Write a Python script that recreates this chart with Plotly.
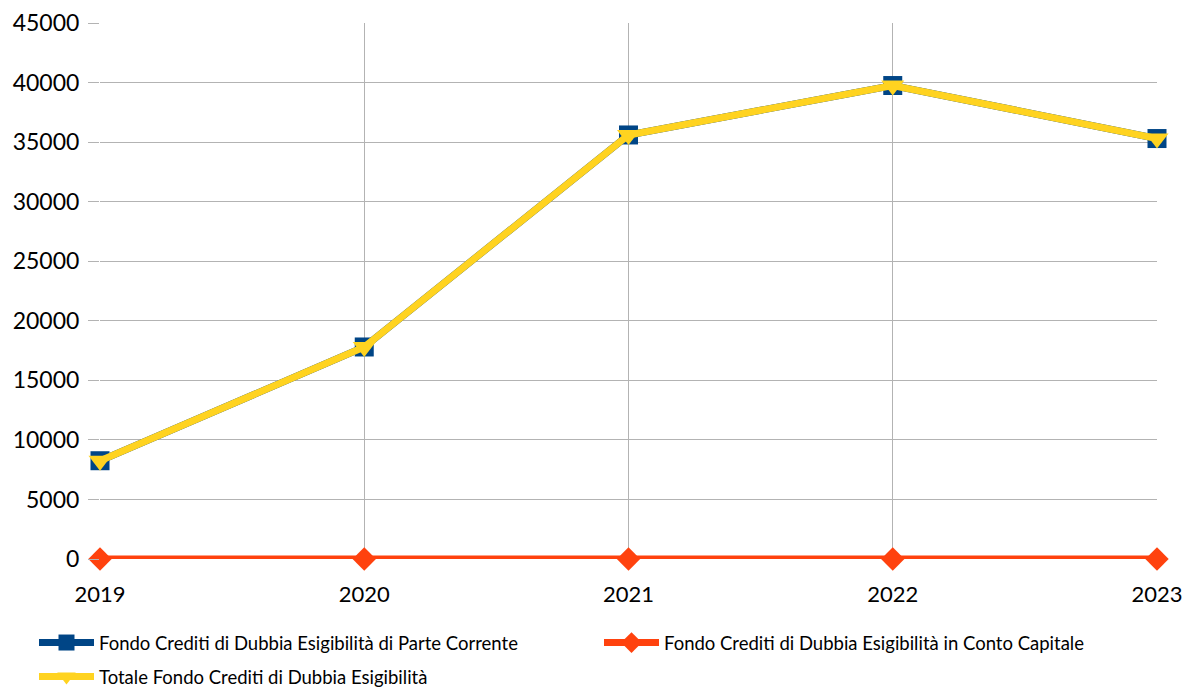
import plotly.graph_objects as go

years = [2019, 2020, 2021, 2022, 2023]
parte_corrente = [8250, 17800, 35600, 39750, 35300]
conto_capitale = [0, 0, 0, 0, 0]
totale = [a + b for a, b in zip(parte_corrente, conto_capitale)]

names = [
    "Fondo Crediti di Dubbia Esigibilità di Parte Corrente",
    "Fondo Crediti di Dubbia Esigibilità in Conto Capitale",
    "Totale Fondo Crediti di Dubbia Esigibilità",
]
y_ticks = [0, 5000, 10000, 15000, 20000, 25000, 30000, 35000, 40000, 45000]

FONT = "Lato, Carlito, 'Open Sans', sans-serif"
W, H = 1185, 689

fig = go.Figure()
fig.add_trace(go.Scatter(
    x=years, y=parte_corrente, name=names[0], mode="lines+markers",
    line=dict(color="#004586", width=7),
    marker=dict(symbol="square", size=19, color="#004586"),
    cliponaxis=False, legend="legend",
))
fig.add_trace(go.Scatter(
    x=years, y=conto_capitale, name=names[1], mode="lines+markers",
    line=dict(color="#ff420e", width=7),
    marker=dict(symbol="diamond", size=18, color="#ff420e"),
    cliponaxis=False, legend="legend2",
))
fig.add_trace(go.Scatter(
    x=years, y=totale, name=names[2], mode="lines+markers",
    line=dict(color="#ffd320", width=7),
    marker=dict(symbol="triangle-down", size=20, color="#ffd320"),
    cliponaxis=False, legend="legend3",
))


def leg(x, y):
    return dict(
        orientation="h",
        xref="container", yref="container",
        x=x / W, y=1 - y / H,
        xanchor="left", yanchor="middle",
        font=dict(size=18.5, family=FONT, color="#000000"),
        itemwidth=55,
        bgcolor="rgba(0,0,0,0)",
    )


fig.update_layout(
    width=W, height=H,
    margin=dict(l=100, r=28, t=23, b=130, autoexpand=False),
    paper_bgcolor="white", plot_bgcolor="white",
    font=dict(family=FONT, color="#000000"),
    showlegend=True,
    legend=leg(34, 643),
    legend2=leg(599, 643),
    legend3=leg(34, 677),
    xaxis=dict(
        range=[2019, 2023],
        tickvals=years,
        ticktext=[str(y) for y in years],
        showgrid=True, gridcolor="#b3b3b3", gridwidth=1,
        zeroline=False, showline=False,
        ticks="", ticklabelstandoff=20,
        tickfont=dict(size=22, family=FONT),
        automargin=False,
    ),
    yaxis=dict(
        range=[0, 45000],
        tickvals=y_ticks,
        tickformat="d",
        showgrid=True, gridcolor="#b3b3b3", gridwidth=1,
        zeroline=False, showline=False,
        ticks="outside", ticklen=11, tickcolor="#b3b3b3",
        ticklabelstandoff=4,
        tickfont=dict(size=23, family=FONT),
        automargin=False,
    ),
)

fig.write_html(
    "out.html",
    config={"displayModeBar": False},
    post_script="document.body.style.margin='0';document.body.style.overflow='hidden';",
)
